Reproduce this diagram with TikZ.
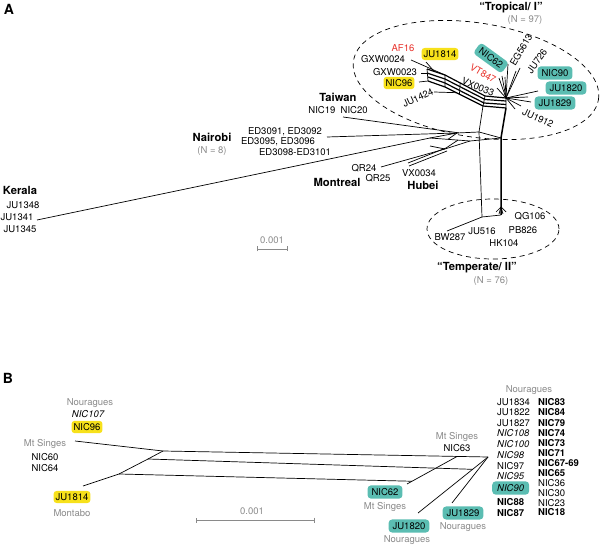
\documentclass[tikz,border=0pt]{standalone}
\usepackage{fontspec}
\setmainfont{TeX Gyre Heros}
\usetikzlibrary{calc,arrows.meta}
\definecolor{hlY}{HTML}{F7E11B}
\definecolor{hlT}{HTML}{5BBDB2}
\definecolor{txtR}{HTML}{E8322B}
\definecolor{txtG}{HTML}{8A8A8A}
\begin{document}
\begin{tikzpicture}[x=1pt,y=-1pt,
  lbl/.style={font=\fontsize{9.5}{10}\selectfont, inner sep=0pt},
  lit/.style={lbl, font=\fontsize{9.5}{10}\selectfont\itshape},
  lbf/.style={lbl, font=\fontsize{9.5}{10}\selectfont\bfseries},
  bl/.style={font=\fontsize{11.2}{12}\selectfont\bfseries, inner sep=0pt},
  pl/.style={font=\fontsize{14}{15}\selectfont\bfseries, inner sep=0pt},
  gr/.style={lbl, text=txtG},
  rd/.style={lbl, text=txtR},
  hly/.style={fill=hlY, rounded corners=3pt, inner xsep=2pt, inner ysep=2.5pt},
  hlt/.style={fill=hlT, rounded corners=3.5pt, inner xsep=4pt, inner ysep=3pt},
  net/.style={line width=0.7pt},
  band/.style={line width=1.2pt, line join=round},
  thk/.style={line width=1.5pt},
  grp/.style={line width=0.7pt, dash pattern=on 5pt off 4pt},
  sbar/.style={draw=txtG, line width=0.7pt, {Bar[width=5pt]}-{Bar[width=5pt]}}
]
\useasboundingbox (0,0) rectangle (600,545);

%%%%%%%%%%%%%%%% Panel A
\node[pl] (pA) at (9,9) {A};
\node[bl] (tropT) at (511,8) {“Tropical/ I”};
\node[gr] (tropN) at (525,20) {(N = 97)};
\coordinate (tc) at (476,80);
\draw[grp, rotate around={-9:(tc)}] (tc) ellipse [x radius=124pt, y radius=57pt];

\node[rd] (af16) at (403,48) {AF16};
\node[lbl,hly] (ju1814a) at (440,54) {JU1814};
\node[lbl] (gxw24) at (383,59) {GXW0024};
\node[lbl] (gxw23) at (395,72) {GXW0023};
\node[lbl,hly] (nic96a) at (399,83) {NIC96};
\node[lbl, rotate=25] (ju1424) at (418,98) {JU1424};
\node[lbl,hlt, rotate=-36] (nic62a) at (491,58) {NIC62};
\node[rd, rotate=-30] (vt847) at (483,73.5) {VT847};
\node[lbl, rotate=-22] (vx0033) at (478,87) {VX0033};
\node[lbl, rotate=60] (eg5613) at (521,50) {EG5613};
\node[lbl, rotate=55] (ju726) at (537,61) {JU726};
\node[lbl,hlt] (nic90a) at (555,73) {NIC90};
\node[lbl,hlt] (ju1820a) at (566,88) {JU1820};
\node[lbl,hlt] (ju1829a) at (555,103) {JU1829};
\node[lbl, rotate=-25] (ju1912) at (538,118) {JU1912};
\node[bl] (taiwan) at (338,97) {Taiwan};
\node[lbl] (nic1920) at (338,110) {NIC19\ \ NIC20};
\node[bl] (nairobi) at (212,137) {Nairobi};
\node[gr] (nairobiN) at (212,151) {(N = 8)};
\node[lbl] (ed1) at (285,132) {ED3091, ED3092};
\node[lbl] (ed2) at (278,142) {ED3095, ED3096};
\node[lbl] (ed3) at (295,152) {ED3098-ED3101};
\node[bl] (kerala) at (20,190) {Kerala};
\node[lbl] (ju1348) at (23,205) {JU1348};
\node[lbl] (ju1341) at (17,217) {JU1341};
\node[lbl] (ju1345) at (20,229) {JU1345};
\node[lbl] (qr24) at (364,168) {QR24};
\node[lbl] (qr25) at (378,178) {QR25};
\node[bl] (montreal) at (337,182) {Montreal};
\node[lbl] (vx0034) at (419,173) {VX0034};
\node[bl] (hubei) at (423,185) {Hubei};

\coordinate (ttc) at (493,229);
\draw[grp] (ttc) ellipse [x radius=66pt, y radius=30pt];
\node[lbl] (qg106) at (530,216) {QG106};
\node[lbl] (pb826) at (523,230) {PB826};
\node[lbl] (ju516) at (482,231) {JU516};
\node[lbl] (bw287) at (450,237) {BW287};
\node[lbl] (hk104) at (504,243) {HK104};
\node[bl] (tempT) at (477,268) {“Temperate/ II”};
\node[gr] (tempN) at (491,281) {(N = 76)};

\node[gr] (sbA) at (272,240) {0.001};
\coordinate (sa1) at (257,249);
\coordinate (sa2) at (288,249);
\draw[sbar] (sa1) -- (sa2);

% band of the tropical group
\coordinate (b10) at (427,69);   \coordinate (b11) at (445,75);  \coordinate (b12) at (485,96);    \coordinate (b13) at (506,98);
\coordinate (b20) at (427,73);   \coordinate (b21) at (445,79);  \coordinate (b22) at (485,99.5);  \coordinate (b23) at (506,101);
\coordinate (b30) at (428,77);   \coordinate (b31) at (445,83);  \coordinate (b32) at (484,103);   \coordinate (b33) at (506,104.5);
\coordinate (b40) at (428,81);   \coordinate (b41) at (445,87);  \coordinate (b42) at (483,106);   \coordinate (b43) at (506,108);
\draw[band] (b10) -- (b11) -- (b12) -- (b13);
\draw[band] (b20) -- (b21) -- (b22) -- (b23);
\draw[band] (b30) -- (b31) -- (b32) -- (b33);
\draw[band] (b40) -- (b41) -- (b42) -- (b43);
\draw[net] (b10) -- (b40) (b11) -- (b41) (b12) -- (b42) (b13) -- (b43);
\draw[net] ($(b11)!0.38!(b12)$) -- ($(b41)!0.38!(b42)$);

% tips into the band
\coordinate (tGx24) at (411,60);
\coordinate (tJu14) at (426,62);
\coordinate (tGx23) at (421,73);
\coordinate (tNic96) at (419,82);
\coordinate (tJu1424) at (434,92);
\draw[net] (tGx24) -- (b11);
\draw[net] (tJu14) -- ($(b10)!0.4!(b11)$);
\draw[net] (tGx23) -- (b20);
\draw[net] (tNic96) -- (b40);
\draw[net] (tJu1424) -- ($(b41)!0.3!(b42)$);

% tropical hub
\coordinate (tH) at (506,98);
\coordinate (tVx33) at (497,88);
\coordinate (tVt1) at (499,78);
\coordinate (tVt2) at (502,76);
\coordinate (tVt3) at (505,77);
\coordinate (tEg) at (508,64);
\coordinate (tJu726a) at (520,68);
\coordinate (tJu726b) at (516,71);
\coordinate (tNic90) at (538,91);
\coordinate (tJu1820) at (528,97);
\coordinate (tJu1829) at (531,102);
\coordinate (tJu1912a) at (521,106);
\coordinate (tJu1912b) at (515,109);
\foreach \t in {tVx33,tVt1,tVt2,tVt3,tEg,tJu726a,tJu726b,tNic90,tJu1820,tJu1829,tJu1912a,tJu1912b}
  \draw[net] (tH) -- (\t);

% central box
\coordinate (hA) at (430,138);
\coordinate (hB) at (457,133);
\coordinate (hC) at (479,132);
\coordinate (hD) at (501,138);
\coordinate (hE) at (470,141);
\draw[net] (hA) -- (hB) -- (hC) -- (hD);
\draw[net] (hA) -- (hE) -- (hD);
\draw[net] (hB) -- ($(hA)!0.45!(hE)$);

% verticals
\coordinate (vT1) at (482,217);
\coordinate (vT2) at (501,215);
\draw[net] (b42) -- (hC) -- (vT1);
\draw[thk] (b43) -- (hD) -- (vT2);

% leaves to the centre
\coordinate (tKer) at (37,220);
\coordinate (tEd) at (327,137);
\coordinate (tNic19) at (343,117);
\coordinate (tQr) at (381,167);
\coordinate (qrM) at (445,149);
\coordinate (tVx34a) at (408,163);
\coordinate (tVx34b) at (409,166);
\draw[net] (tKer) -- (hA);
\draw[net] (tEd) -- (hB);
\draw[net] (tNic19) -- ($(hB)!0.1!(hC)$);
\draw[net] (tQr) -- (qrM) -- (hE);
\draw[net] (tVx34a) -- (446,148) -- ($(hA)!0.7!(hE)$);
\draw[net] (tVx34b) -- (447,151);
\draw[net] (430,146) -- (qrM);

% temperate tips
\coordinate (tBw) at (447,231);
\coordinate (fanC) at (501,207);
\draw[net] (tBw) -- (vT1) -- (vT2);
\foreach \p in {(496,212),(499,214),(503,214),(506,212)}
  \draw[net] (fanC) -- \p;

%%%%%%%%%%%%%%%% Panel B
\node[pl] (pB) at (8,378) {B};
\node[gr] (bNour1) at (90,403) {Nouragues};
\node[lit] (nic107) at (88,414) {NIC107};
\node[lbl,hly] (nic96b) at (87,427) {NIC96};
\node[gr] (bMt1) at (45,444) {Mt Singes};
\node[lbl] (nic60) at (45,457) {NIC60};
\node[lbl] (nic64) at (45,468) {NIC64};
\node[lbl,hly] (ju1814b) at (72,497) {JU1814};
\node[gr] (montabo) at (72,513) {Montabo};

\node[gr] (bMt2) at (457,437) {Mt Singes};
\node[lbl] (nic63) at (457,448) {NIC63};
\node[lbl,hlt] (nic62b) at (385,492) {NIC62};
\node[gr] (bMt3) at (385,507) {Mt Singes};
\node[lbl,hlt] (ju1820b) at (409,526) {JU1820};
\node[gr] (bNour2) at (407,540) {Nouragues};
\node[lbl,hlt] (ju1829b) at (463,513) {JU1829};
\node[gr] (bNour3) at (463,527) {Nouragues};

\node[gr] (bNour4) at (529,390) {Nouragues};
\node[lbl, anchor=west] (l1) at (497,402) {JU1834};
\node[lbl, anchor=west] (l2) at (497,412.5) {JU1822};
\node[lbl, anchor=west] (l3) at (497,423) {JU1827};
\node[lit, anchor=west] (l4) at (497,433.5) {NIC108};
\node[lit, anchor=west] (l5) at (497,444.5) {NIC100};
\node[lit, anchor=west] (l6) at (497,455) {NIC98};
\node[lbl, anchor=west] (l7) at (497,466) {NIC97};
\node[lit, anchor=west] (l8) at (497,476.5) {NIC95};
\node[lit, hlt, anchor=west, inner xsep=5pt] (l9) at (492,488) {NIC90};
\node[lbf, anchor=west] (l10) at (497,502) {NIC88};
\node[lbf, anchor=west] (l11) at (497,513) {NIC87};
\node[lbf, anchor=west] (r1) at (538,402) {NIC83};
\node[lbf, anchor=west] (r2) at (538,412.5) {NIC84};
\node[lbf, anchor=west] (r3) at (538,423) {NIC79};
\node[lbf, anchor=west] (r4) at (538,433) {NIC74};
\node[lbf, anchor=west] (r5) at (538,443.5) {NIC73};
\node[lbf, anchor=west] (r6) at (538,453.5) {NIC71};
\node[lbf, anchor=west] (r7) at (538,463.5) {NIC67-69};
\node[lbf, anchor=west] (r8) at (538,473.5) {NIC65};
\node[lbl, anchor=west] (r9) at (538,483) {NIC36};
\node[lbl, anchor=west] (r10) at (538,493) {NIC30};
\node[lbl, anchor=west] (r11) at (538,503) {NIC23};
\node[lbf, anchor=west] (r12) at (538,512) {NIC18};

\node[gr] (sbB) at (252,511) {0.001};
\coordinate (sb1) at (196,520);
\coordinate (sb2) at (315,520);
\draw[sbar] (sb1) -- (sb2);

% network B
\coordinate (pL1) at (163,451);
\coordinate (pL2) at (148,459);
\coordinate (pL3) at (119,474);
\coordinate (pR) at (488,457);
\coordinate (eNic96) at (75,441);
\coordinate (eJu1814) at (83,486);
\coordinate (eNic62) at (407,484);
\coordinate (eNic63) at (457,456.5);
\coordinate (eJu1820) at (418,513);
\coordinate (eJu1829) at (452,503);
\draw[net] (eNic96) -- (pL1);
\draw[net] (eJu1814) -- (pL3) -- (pL2) -- (pL1);
\draw[net] (pL1) -- (pR);
\draw[net] (pL2) -- ($(pR)!0.22!(eJu1820)$);
\draw[net] (pL3) -- ($(eNic62)!0.1!(eNic63)$);
\draw[net] (eNic62) -- (eNic63);
\draw[net] (eJu1820) -- (pR);
\draw[net] (eJu1829) -- (pR);
\end{tikzpicture}
\end{document}
